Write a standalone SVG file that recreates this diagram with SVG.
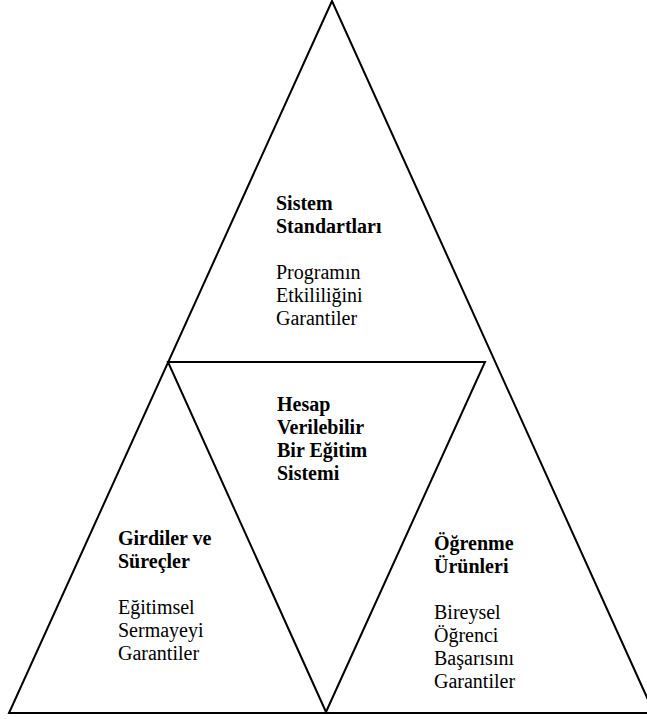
<svg xmlns="http://www.w3.org/2000/svg" width="647" height="719" viewBox="0 0 647 719">
<style>
.ln{fill:none;stroke:#000;stroke-width:2;stroke-linejoin:miter}
text{font-family:"Liberation Serif","Times New Roman",serif;font-size:20px;fill:#000}
.b{font-weight:bold}
</style>
<rect width="647" height="719" fill="#fff"/>
<g id="connectors">
<polygon class="ln" points="332,1 9,713 654,713"/>
<polygon class="ln" points="168,362 485,362 326,712"/>
</g>
<g id="top">
<text class="b" x="276" y="210">Sistem</text>
<text class="b" x="276" y="233">Standartları</text>
<text x="276" y="279">Programın</text>
<text x="276" y="302">Etkililiğini</text>
<text x="276" y="325">Garantiler</text>
</g>
<g id="center">
<text class="b" x="277" y="411">Hesap</text>
<text class="b" x="277" y="434">Verilebilir</text>
<text class="b" x="277" y="457">Bir Eğitim</text>
<text class="b" x="277" y="480">Sistemi</text>
</g>
<g id="left">
<text class="b" x="118" y="545">Girdiler ve</text>
<text class="b" x="118" y="568">Süreçler</text>
<text x="118" y="614">Eğitimsel</text>
<text x="118" y="637">Sermayeyi</text>
<text x="118" y="660">Garantiler</text>
</g>
<g id="right">
<text class="b" x="434" y="550">Öğrenme</text>
<text class="b" x="434" y="573">Ürünleri</text>
<text x="434" y="619">Bireysel</text>
<text x="434" y="642">Öğrenci</text>
<text x="434" y="665">Başarısını</text>
<text x="434" y="688">Garantiler</text>
</g>
</svg>
